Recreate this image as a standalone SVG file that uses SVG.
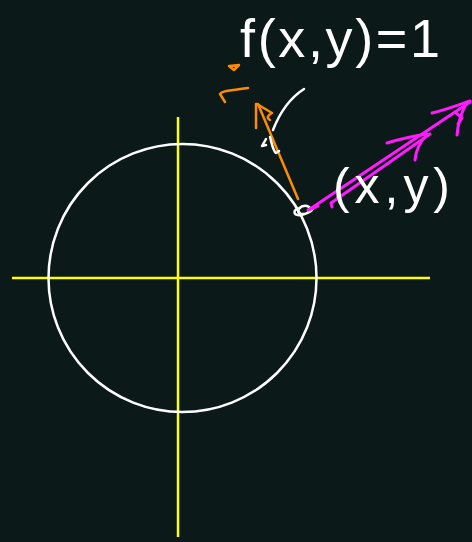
<svg xmlns="http://www.w3.org/2000/svg" width="472" height="542" viewBox="0 0 472 542">
<style>
.axis{stroke:#ffff00;stroke-width:2.5;fill:none}
.wh{stroke:#ffffff;stroke-width:2.5;fill:none;stroke-linecap:round;stroke-linejoin:round}
.or{stroke:#ff8c00;stroke-width:2.5;fill:none;stroke-linecap:round;stroke-linejoin:round}
.mg{stroke:#ff1aff;stroke-width:3;fill:none;stroke-linecap:round;stroke-linejoin:round}
.hand{fill:#ffffff;font-family:"Liberation Sans",Arial,sans-serif}
</style>
<rect width="472" height="542" fill="#0b1a18"/>
<g id="axes">
<line class="axis" x1="12" y1="278" x2="430" y2="278"/>
<line class="axis" x1="178" y1="117" x2="178" y2="537"/>
</g>
<g id="circle">
<circle class="wh" cx="182.5" cy="278" r="134" stroke-width="2"/>
</g>
<g id="point">
<path class="wh" d="M300 208 C292 210 293 216 301 215 C309 214 314 208 307 206 C301 205 296 210 299 213 C303 216 312 212 313 208" stroke-width="3"/>
</g>
<g id="connectors">
<g id="normal-orange">
<path class="or" d="M298 199 L258 104"/>
<path class="or" d="M256 104 L256 128"/>
<path class="or" d="M257 104 L272 113 C268 115 266 118 270 120"/>
<path class="or" d="M225 102 L220 94 C222 91 226 91 248 88"/>
<path class="or" d="M229 66 L239 65 L234 70 Z" fill="#ff8c00"/>
</g>
<g id="vector-magenta">
<path class="mg" d="M310 209 L470 102"/>
<path class="mg" d="M332 207 L331 203 L430 134"/>
<path class="mg" d="M387 143 C400 139 414 136 427 134"/>
<path class="mg" d="M415 160 C416 150 420 142 426 136"/>
<path class="mg" d="M432 113 C445 110 458 105 470 101"/>
<path class="mg" d="M457 135 C458 124 461 114 465 106"/>
<path class="mg" d="M455 112 L462 118 L458 124"/>
<path class="mg" d="M308 210 L318 206"/>
</g>
</g>
<g id="tangent-mark">
<path class="wh" d="M304 89 C290 98 280 112 273 130"/>
<path class="wh" d="M266 139 L262 146 L266 145"/>
<path class="wh" d="M270 137 C272 144 273 151 276 153 L279 151"/>
</g>
<g id="label-equation">
<text class="hand" x="240" y="57" font-size="54" textLength="200" lengthAdjust="spacing">f(x,y)=1</text>
</g>
<g id="label-point">
<text class="hand" x="333" y="203" font-size="50" textLength="117" lengthAdjust="spacing">(x,y)</text>
</g>
</svg>
